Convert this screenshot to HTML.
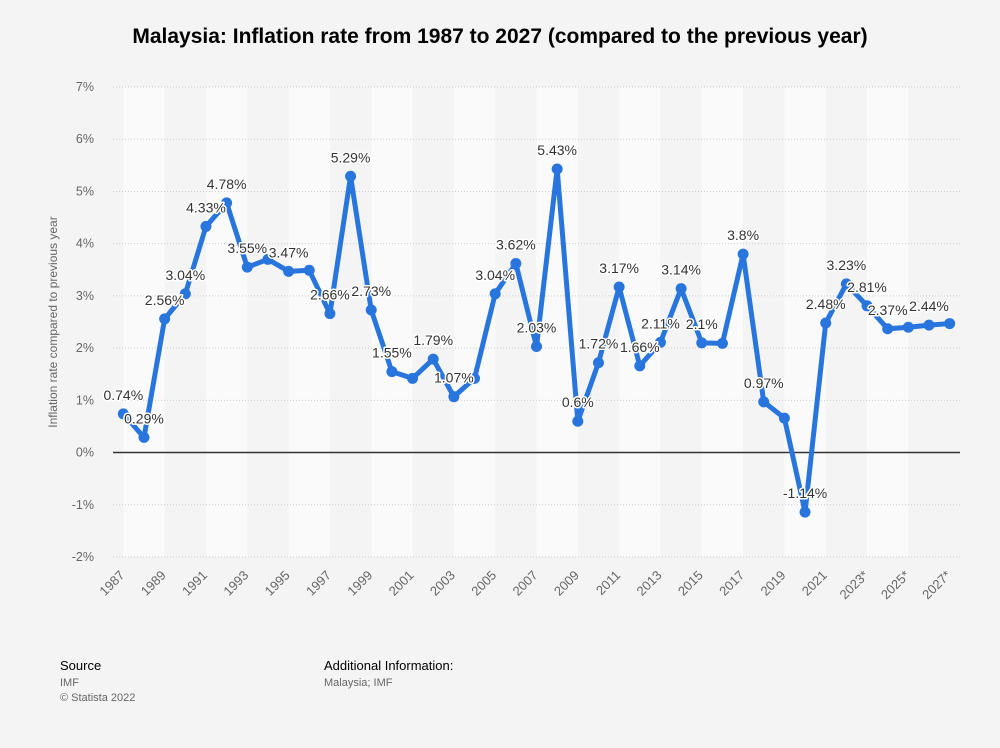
<!DOCTYPE html>
<html><head><meta charset="utf-8"><style>
body{margin:0;background:#f4f4f4;font-family:"Liberation Sans",Arial,sans-serif;}
svg text{font-family:"Liberation Sans",Arial,sans-serif;}
</style></head><body>
<svg width="1000" height="743" xmlns="http://www.w3.org/2000/svg">
<rect width="1000" height="743" fill="#f4f4f4"/>
<text x="500" y="43" text-anchor="middle" font-size="21" font-weight="bold" fill="#000">Malaysia: Inflation rate from 1987 to 2027 (compared to the previous year)</text>
<g id="bands"></g><g id="grid"></g><g id="xt"></g><g id="line"></g><g id="labels"></g>
<text transform="translate(57,322) rotate(-90)" text-anchor="middle" font-size="12" fill="#666">Inflation rate compared to previous year</text>
<text x="60" y="670" font-size="13" fill="#000">Source</text>
<text x="60" y="686" font-size="11" fill="#666">IMF</text>
<text x="60" y="701" font-size="11" fill="#666">© Statista 2022</text>
<text x="324" y="670" font-size="13" fill="#000">Additional Information:</text>
<text x="324" y="686" font-size="11" fill="#666">Malaysia; IMF</text>
</svg>
<script>
const years=[];for(let y=1987;y<=2027;y++)years.push(y);
const values=[0.74,0.29,2.56,3.04,4.33,4.78,3.55,3.7,3.47,3.49,2.66,5.29,2.73,1.55,1.42,1.79,1.07,1.42,3.04,3.62,2.03,5.43,0.6,1.72,3.17,1.66,2.11,3.14,2.1,2.09,3.8,0.97,0.66,-1.14,2.48,3.23,2.81,2.37,2.4,2.44,2.47];
const labels=["0.74%","0.29%","2.56%","3.04%","4.33%","4.78%","3.55%","","3.47%","","2.66%","5.29%","2.73%","1.55%","","1.79%","1.07%","","3.04%","3.62%","2.03%","5.43%","0.6%","1.72%","3.17%","1.66%","2.11%","3.14%","2.1%","","3.8%","0.97%","","-1.14%","2.48%","3.23%","2.81%","2.37%","","2.44%",""];
const yTicks=[-2,-1,0,1,2,3,4,5,6,7];
const NS="http://www.w3.org/2000/svg";
const L=113,R=960,T=87,B=557,bw=(R-L)/years.length;
const X=i=>L+bw*(i+0.5);
const Y=v=>T+(7-v)*(B-T)/9;
function mk(tag,attrs,parent,txt){const e=document.createElementNS(NS,tag);for(const k in attrs)e.setAttribute(k,attrs[k]);if(txt!==undefined)e.textContent=txt;document.getElementById(parent).appendChild(e);return e;}
for(let i=0;i+2<years.length;i+=4){
 const e=mk('rect',{x:X(i),y:T,width:X(i+2)-X(i),height:B-T,fill:'#fafafa'},'bands');
 
 
}
yTicks.forEach(t=>{
 const g=mk('line',{x1:L,x2:R,y1:Y(t),y2:Y(t),stroke:t===0?'#333':'#ccc','stroke-width':t===0?1.5:1,'stroke-dasharray':t===0?'':'1,2'},'grid');
 
 
 const tx=mk('text',{x:94,y:Y(t)+4,'text-anchor':'end','font-size':12.5,fill:'#666'},'grid',t+'%');
 
 
});
years.forEach((y,i)=>{
 if(i%2)return;
 const lab=y>2022?y+'*':String(y);
 const ax=X(i)+2,ay=576;
 const tx=mk('text',{x:ax,y:ay,'text-anchor':'end','font-size':13,fill:'#666',transform:`rotate(-45 ${ax} ${ay})`},'xt',lab);
 
 
});
const p=mk('polyline',{points:values.map((v,i)=>X(i)+','+Y(v)).join(' '),fill:'none',stroke:'#2876dd','stroke-width':5,'stroke-linejoin':'round'},'line');


values.forEach((v,i)=>{
 const c=mk('circle',{cx:X(i),cy:Y(v),r:5.5,fill:'#2876dd'},'line');
 
 
 if(labels[i]){
  const t=mk('text',{x:X(i),y:Y(v)-14,'text-anchor':'middle','font-size':14,fill:'#333',stroke:'#fff','stroke-width':3,'paint-order':'stroke','stroke-linejoin':'round'},'labels',labels[i]);
  
  
 }
});
</script>
</body></html>
